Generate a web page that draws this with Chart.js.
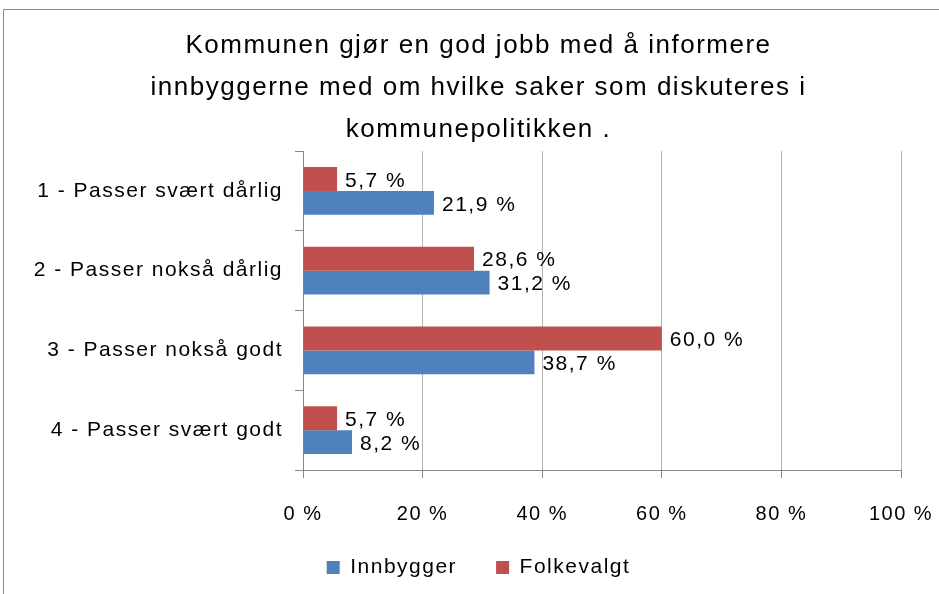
<!DOCTYPE html>
<html>
<head>
<meta charset="utf-8">
<script src="https://cdn.jsdelivr.net/npm/chart.js@4/dist/chart.umd.min.js"></script>
<style>
  html, body { margin: 0; padding: 0; background: #ffffff; }
  #wrap { position: relative; width: 939px; height: 594px; overflow: hidden; background: #fff; }
  #frame { position: absolute; left: 3px; top: 9px; width: 1000px; height: 700px; border: 1px solid #8c8c8c; box-sizing: border-box; }
  #c { position: absolute; left: 0; top: 0; }
</style>
</head>
<body>
<div id="wrap">
  <div id="frame"></div>
  <canvas id="c" width="939" height="594"></canvas>
</div>
<script>
const titleLines = [
  'Kommunen gjør en god jobb med å informere',
  'innbyggerne med om hvilke saker som diskuteres i',
  'kommunepolitikken .'
];
const categories = [
  '1 - Passer svært dårlig',
  '2 - Passer nokså dårlig',
  '3 - Passer nokså godt',
  '4 - Passer svært godt'
];
const innbygger = [21.9, 31.2, 38.7, 8.2];
const folkevalgt = [5.7, 28.6, 60.0, 5.7];
const xTicks = [0, 20, 40, 60, 80, 100];

const FONT = "'Liberation Sans', Arial, sans-serif";
const SPACING = '1.5px';

const spacingPlugin = {
  id: 'spacing',
  beforeInit(chart) { chart.ctx.letterSpacing = SPACING; },
  beforeUpdate(chart) { chart.ctx.letterSpacing = SPACING; },
  beforeLayout(chart) { chart.ctx.letterSpacing = SPACING; },
  afterLayout(chart) {
    // let the x tick labels extend below the (short) axis box without clipping
    const xs = chart.scales.x;
    xs.bottom = chart.height;
    xs.height = xs.bottom - xs.top;
  },
  beforeDraw(chart) { chart.ctx.letterSpacing = SPACING; }
};

const valueLabels = {
  id: 'valueLabels',
  afterDatasetsDraw(chart) {
    const ctx = chart.ctx;
    ctx.save();
    ctx.letterSpacing = SPACING;
    ctx.font = '21px ' + FONT;
    ctx.fillStyle = '#000';
    ctx.textAlign = 'left';
    ctx.textBaseline = 'middle';
    chart.data.datasets.forEach((ds, di) => {
      const meta = chart.getDatasetMeta(di);
      meta.data.forEach((el, i) => {
        const v = ds.data[i];
        const txt = v.toFixed(1).replace('.', ',') + ' %';
        ctx.fillText(txt, el.x + 8, el.y + 2);
      });
    });
    ctx.restore();
  }
};

new Chart(document.getElementById('c'), {
  type: 'bar',
  data: {
    labels: categories,
    datasets: [
      { label: 'Folkevalgt', data: folkevalgt, backgroundColor: '#c0504d' },
      { label: 'Innbygger', data: innbygger, backgroundColor: '#4f81bd' }
    ]
  },
  options: {
    indexAxis: 'y',
    responsive: false,
    animation: false,
    devicePixelRatio: 1,
    categoryPercentage: 0.6,
    barPercentage: 1.0,
    layout: { padding: { left: 18, right: 0, top: 0, bottom: 6 } },
    plugins: {
      title: {
        display: true,
        text: titleLines,
        color: '#000',
        font: { family: FONT, size: 26, weight: 'normal', lineHeight: 42 / 26 },
        padding: { top: 25, bottom: 0 }
      },
      legend: {
        position: 'bottom',
        labels: {
          color: '#000',
          font: { family: FONT, size: 21 },
          boxWidth: 13,
          boxHeight: 13,
          padding: 39,
          sort: (a, b) => b.datasetIndex - a.datasetIndex
        }
      },
      tooltip: { enabled: false }
    },
    scales: {
      x: {
        min: 0,
        max: 100,
        afterBuildTicks(scale) { scale.ticks = xTicks.map(v => ({ value: v })); },
        afterFit(scale) {
          scale.height = 48;
          scale.paddingLeft = 0;
          scale.paddingRight = 38;
        },
        ticks: {
          color: '#000',
          font: { family: FONT, size: 20 },
          padding: 24,
          maxRotation: 0,
          callback: (v) => v + ' %'
        },
        grid: { color: '#b4b4b4', tickColor: '#868686', tickLength: 8, lineWidth: 1 },
        border: { color: '#868686' }
      },
      y: {
        afterFit(scale) { scale.width = 285; },
        ticks: {
          color: '#000',
          font: { family: FONT, size: 21 },
          padding: 12
        },
        grid: { drawOnChartArea: false, tickColor: '#868686', tickLength: 8 },
        border: { color: '#868686' }
      }
    }
  },
  plugins: [spacingPlugin, valueLabels]
});
</script>
</body>
</html>
